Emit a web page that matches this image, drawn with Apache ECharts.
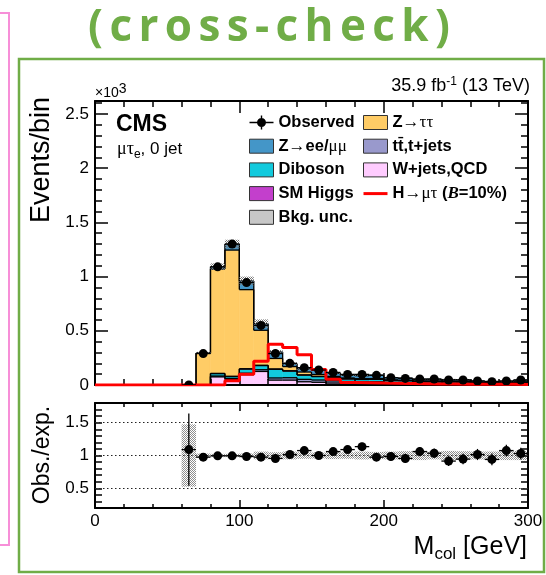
<!DOCTYPE html>
<html><head><meta charset="utf-8">
<script src="https://cdn.jsdelivr.net/npm/echarts@6/dist/echarts.min.js"></script>
<style>html,body{margin:0;padding:0;background:#fff}#c{width:546px;height:575px}</style>
</head><body><div id="c"></div>
<script>
// ---------- data (units of 10^3 events / bin) ----------
const binEdges = [0,10,20,30,40,50,60,70,80,90,100,110,120,130,140,150,160,170,180,190,200,210,220,230,240,250,260,270,280,290,300];
const wjetsQCD = [0,0,0,0,0,0,0.0005,0,0.075,0.05,0.095,0.125,0.045,0.045,0.03,0.025,0.018,0.012,0.010,0.012,0.008,0.008,0.006,0.006,0.006,0.005,0.004,0.004,0.003,0.004];
const ttbar    = [0,0,0,0,0,0,0,0.001,0.008,0.010,0.014,0.016,0.020,0.022,0.022,0.021,0.020,0.020,0.019,0.018,0.016,0.015,0.013,0.013,0.012,0.012,0.009,0.008,0.008,0.010];
const diboson  = [0,0,0,0,0,0,0,0.001,0.022,0.018,0.038,0.038,0.080,0.062,0.040,0.032,0.028,0.024,0.022,0.023,0.018,0.017,0.014,0.014,0.013,0.012,0.009,0.008,0.009,0.012];
const smHiggs  = [0,0,0,0,0,0,0,0,0.002,0.002,0.003,0.003,0.003,0.002,0.001,0.001,0.001,0.001,0.001,0.001,0.001,0.001,0.001,0.001,0.0005,0.0005,0.0005,0.0005,0.0005,0.0005];
const zTauTau  = [0,0,0,0,0,0,0.0015,0.290,0.963,1.165,0.730,0.323,0.097,0.039,0.027,0.018,0.012,0.008,0.006,0.005,0.004,0.003,0.003,0.002,0.002,0.002,0.001,0.001,0.001,0.001];
const zLL      = [0,0,0,0,0,0,0.0003,0.004,0.022,0.055,0.080,0.060,0.060,0.027,0.029,0.040,0.030,0.025,0.028,0.032,0.021,0.020,0.015,0.017,0.0165,0.0175,0.0125,0.0115,0.0125,0.0175];
const bkgUnc   = [0,0,0,0,0,0,0.001,0.010,0.030,0.040,0.040,0.040,0.018,0.012,0.008,0.007,0.006,0.005,0.005,0.005,0.004,0.004,0.004,0.003,0.003,0.003,0.002,0.002,0.002,0.003];
const observed    = [null,null,null,null,null,null,0.001,0.29,1.09,1.30,0.945,0.55,0.29,0.20,0.16,0.138,0.116,0.098,0.098,0.089,0.067,0.061,0.055,0.055,0.046,0.046,0.037,0.031,0.037,0.046];
const observedErr = [null,null,null,null,null,null,0.001,0.017,0.033,0.036,0.031,0.023,0.017,0.014,0.013,0.012,0.011,0.010,0.010,0.009,0.008,0.008,0.007,0.007,0.007,0.007,0.006,0.006,0.006,0.007];
const signalLFV   = [0,0,0,0,0,0,0,0,0,0.040,0.100,0.220,0.375,0.345,0.280,0.144,0.052,0.022,0.020,0.018,0.016,0.014,0.012,0.010,0.009,0.008,0.007,0.006,0.006,0.005];
const ratioObs     = [null,null,null,null,null,null,1.09,0.975,0.995,0.995,0.985,0.975,0.955,1.015,1.075,1.0,1.06,1.09,1.135,0.975,0.985,0.955,1.06,1.035,0.915,0.945,1.015,0.94,1.075,1.03];
const ratioErr     = [null,null,null,null,null,null,0.55,0.03,0.015,0.015,0.02,0.03,0.04,0.04,0.045,0.045,0.05,0.055,0.06,0.06,0.065,0.07,0.07,0.07,0.075,0.08,0.085,0.09,0.09,0.09];
const ratioBandUnc = [null,null,null,null,null,null,0.475,0.03,0.025,0.025,0.03,0.06,0.05,0.06,0.05,0.045,0.055,0.05,0.06,0.055,0.06,0.065,0.07,0.06,0.07,0.065,0.06,0.06,0.07,0.07];
const mainYTickLabels  = ['0','0.5','1','1.5','2','2.5'];
const ratioYTickLabels = ['0.5','1','1.5'];
const ratioRefLines    = [0.5, 1, 1.5];

// ---------- helpers ----------
const NB = binEdges.length - 1;
function makePattern(col){
  const c = document.createElement('canvas'); c.width = 2; c.height = 2;
  const g = c.getContext('2d'); g.fillStyle = col;
  g.fillRect(0,0,1,1); g.fillRect(1,1,1,1);
  return {image: c, repeat: 'repeat'};
}
const hatch = makePattern('#7a7a7a');
const hatchLight = makePattern('#8e8e8e');

const components = [
  {name:'W+jets,QCD', vals:wjetsQCD, color:'#ffccff'},
  {name:'tt\u0304,t+jets', vals:ttbar, color:'#9999cc'},
  {name:'Diboson', vals:diboson, color:'#12cadd'},
  {name:'SM Higgs', vals:smHiggs, color:'#c33fcc'},
  {name:'Z\u2192\u03c4\u03c4', vals:zTauTau, color:'#ffcc66'},
  {name:'Z\u2192ee/\u03bc\u03bc', vals:zLL, color:'#4496c8'}
];

function stackRender(color){
  return function(params, api){
    const lo = api.value(0), hi = api.value(1), base = api.value(2), top = api.value(3), prev = api.value(4);
    if (top <= 0 && prev <= 0) return null;
    const a = api.coord([lo, top]), b = api.coord([hi, base]), pp = api.coord([lo, prev]);
    const ch = [];
    if (top > base) ch.push({type:'rect', shape:{x:a[0], y:a[1], width:b[0]-a[0], height:b[1]-a[1]},
      style:{fill:color, stroke:color, lineWidth:0.6}, z2:0});
    ch.push({type:'line', shape:{x1:a[0], y1:a[1], x2:b[0], y2:a[1]}, style:{stroke:'#000', lineWidth:1.3}, z2:10});
    if (Math.abs(pp[1]-a[1]) > 0.1) ch.push({type:'line', shape:{x1:a[0], y1:pp[1], x2:a[0], y2:a[1]}, style:{stroke:'#000', lineWidth:1.3}, z2:10});
    return {type:'group', children:ch};
  };
}

let cum = new Array(NB).fill(0);
const stackSeries = components.map(c => {
  const tops = cum.map((b,i) => b + c.vals[i]);
  const data = tops.map((t,i) => [binEdges[i], binEdges[i+1], cum[i], t, i>0 ? tops[i-1] : 0]);
  cum = tops;
  return {type:'custom', name:c.name, xAxisIndex:0, yAxisIndex:0, z:2, clip:true,
    itemStyle:{color:c.color, borderColor:'#333', borderWidth:1},
    renderItem: stackRender(c.color), data: data};
});
const totals = cum;

function bandRender(fill){
  return function(params, api){
    const lo = api.value(0), hi = api.value(1), y0 = api.value(2), y1 = api.value(3);
    const a = api.coord([lo, y1]), b = api.coord([hi, y0]);
    return {type:'rect', shape:{x:a[0], y:a[1], width:b[0]-a[0], height:b[1]-a[1]}, style:{fill:fill}};
  };
}
function pointRender(r, lw){
  return function(params, api){
    const lo = api.value(0), hi = api.value(1), v = api.value(2), e = api.value(3);
    const mid = (lo+hi)/2;
    const l = api.coord([lo, v]), rr = api.coord([hi, v]), c = api.coord([mid, v]);
    const up = api.coord([mid, v+e]), dn = api.coord([mid, v-e]);
    return {type:'group', children:[
      {type:'line', shape:{x1:l[0], y1:l[1], x2:rr[0], y2:rr[1]}, style:{stroke:'#000', lineWidth:lw}},
      {type:'line', shape:{x1:up[0], y1:up[1], x2:dn[0], y2:dn[1]}, style:{stroke:'#000', lineWidth:lw}},
      {type:'circle', shape:{cx:c[0], cy:c[1], r:r}, style:{fill:'#000'}}
    ]};
  };
}

const mainBandData = [], obsData = [], ratioBandData = [], ratioData = [];
for (let i = 0; i < NB; i++){
  if (totals[i] > 0) mainBandData.push([binEdges[i], binEdges[i+1], totals[i]-bkgUnc[i], totals[i]+bkgUnc[i]]);
  if (observed[i] != null) obsData.push([binEdges[i], binEdges[i+1], observed[i], observedErr[i]]);
  if (ratioBandUnc[i] != null) ratioBandData.push([binEdges[i], binEdges[i+1], 1-ratioBandUnc[i], 1+ratioBandUnc[i]]);
  if (ratioObs[i] != null) ratioData.push([binEdges[i], binEdges[i+1], ratioObs[i], ratioErr[i]]);
}
const signalData = binEdges.map((e,i) => [e, signalLFV[Math.min(i, NB-1)]]);

// ---------- axes ----------
const F = '"Liberation Sans", Arial, Helvetica, sans-serif';
const AX = {color:'#000', width:2};
function xAx(grid, pos, showLabel, major, minor){
  return {type:'value', gridIndex:grid, position:pos, min:0, max:300, interval:100, z:3,
    axisLine:{show:true, onZero:false, lineStyle:AX},
    axisTick:{show:true, inside:true, length:major, lineStyle:{color:'#000', width:1.5}},
    minorTick:{show:true, splitNumber:5, length:minor, lineStyle:{color:'#000', width:1.5}},
    axisLabel:{show:showLabel, color:'#000', fontFamily:F, fontSize:17, margin:5},
    splitLine:{show:false}, minorSplitLine:{show:false}};
}
function yAx(grid, pos, min, max, interval, tickLen, labelFn, showLine){
  return {type:'value', gridIndex:grid, position:pos, min:min, max:max, interval:interval, z:3,
    axisLine:{show:showLine, onZero:false, lineStyle:AX},
    axisTick:{show:true, inside:true, length:tickLen, lineStyle:{color:'#000', width:1.5}},
    axisLabel:{show:!!labelFn, color:'#000', fontFamily:F, fontSize:17, margin:6, formatter:labelFn || undefined},
    splitLine:{show:false}};
}
function lab(list){
  return function(v){
    const r = Math.round(v*10)/10;
    const s = String(r);
    return list.indexOf(s) >= 0 ? s : '';
  };
}

const legendRich = {
  b:{fontFamily:F, fontWeight:'bold', fontSize:16.5, color:'#000'},
  g:{fontFamily:'"Liberation Serif", serif', fontWeight:'normal', fontSize:17, color:'#000'},
  i:{fontFamily:'"Liberation Serif", serif', fontWeight:'bold', fontStyle:'italic', fontSize:17, color:'#000'}
};
const legendFmt = {
  'Z\u2192ee/\u03bc\u03bc':'{b|Z}{g|\u2192}{b|ee/}{g|\u03bc\u03bc}',
  'Z\u2192\u03c4\u03c4':'{b|Z}{g|\u2192\u03c4\u03c4}',
  'H\u2192\u03bc\u03c4 (B=10%)':'{b|H}{g|\u2192\u03bc\u03c4}{b| (}{i|B}{b|=10%)}'
};
function legendCfg(left, items){
  return {left:left, top:114, orient:'vertical', padding:0, itemWidth:24, itemHeight:14, itemGap:6.7,
    selectedMode:false, textStyle:{fontFamily:F, fontWeight:'bold', fontSize:16.5, color:'#000', rich:legendRich},
    formatter: n => legendFmt[n] || ('{b|' + n + '}'), data: items};
}
const box = (name, color) => ({name:name, icon:'rect', itemStyle:{color:color, borderColor:'#333', borderWidth:1}});

const titleText = '(cross-check)';

const option = {
  animation:false,
  grid:[
    {left:95, top:101, width:433, height:284, outerBoundsMode:'none', containLabel:false},
    {left:95, top:403, width:433, height:105, outerBoundsMode:'none', containLabel:false}
  ],
  xAxis:[ xAx(0,'bottom',false,12,6), xAx(0,'top',false,12,6), xAx(1,'bottom',true,8,4), xAx(1,'top',false,8,4) ],
  yAxis:[
    yAx(0,'left',0,2.62,0.5,13,lab(mainYTickLabels),true),
    yAx(0,'left',0,2.62,0.1,7,null,false),
    yAx(0,'right',0,2.62,0.5,13,null,true),
    yAx(0,'right',0,2.62,0.1,7,null,false),
    yAx(1,'left',0.2,1.8,0.1,7,lab(ratioYTickLabels),true),
    yAx(1,'right',0.2,1.8,0.1,7,null,true)
  ],
  legend:[
    legendCfg(249, [
      {name:'Observed', icon:'path://M0,6.3H24V7.7H0Z M11.3,0H12.7V14H11.3Z M16.5,7A4.5,4.5,0,1,1,7.5,7A4.5,4.5,0,1,1,16.5,7Z', itemStyle:{color:'#000', borderWidth:0}},
      box('Z\u2192ee/\u03bc\u03bc', '#4496c8'), box('Diboson', '#12cadd'), box('SM Higgs', '#c33fcc'),
      {name:'Bkg. unc.', icon:'rect', itemStyle:{color:hatchLight, borderColor:'#333', borderWidth:1}}
    ]),
    legendCfg(363, [
      box('Z\u2192\u03c4\u03c4', '#ffcc66'), box('tt\u0304,t+jets', '#9999cc'), box('W+jets,QCD', '#ffccff'),
      {name:'H\u2192\u03bc\u03c4 (B=10%)', icon:'path://M0,0H24V3H0Z', itemStyle:{color:'#ff0000', borderWidth:0}}
    ])
  ],
  series: stackSeries.concat([
    {type:'custom', name:'Bkg. unc.', xAxisIndex:0, yAxisIndex:0, z:2.5, clip:true, itemStyle:{color:'#999'}, renderItem:bandRender(hatch), data:mainBandData},
    {type:'line', name:'H\u2192\u03bc\u03c4 (B=10%)', xAxisIndex:0, yAxisIndex:0, z:4, step:'end', symbol:'none',
      lineStyle:{color:'#ff0000', width:3}, itemStyle:{color:'#ff0000'}, data:signalData},
    {type:'custom', name:'Observed', xAxisIndex:0, yAxisIndex:0, z:6, clip:true, itemStyle:{color:'#000'}, renderItem:pointRender(4.5,1.3), data:obsData},
    {type:'line', name:'ratioRef', xAxisIndex:2, yAxisIndex:4, z:1, data:[], symbol:'none',
      markLine:{silent:true, symbol:'none', label:{show:false}, lineStyle:{color:'#222', type:[1.5,2.5], width:1},
        data: ratioRefLines.map(v => ({yAxis:v}))}},
    {type:'custom', name:'ratioBand', xAxisIndex:2, yAxisIndex:4, z:2, clip:true, renderItem:bandRender(hatchLight), data:ratioBandData},
    {type:'custom', name:'ratio', xAxisIndex:2, yAxisIndex:4, z:6, clip:true, renderItem:pointRender(4.5,1.3), data:ratioData}
  ]),
  graphic:[
    {type:'polyline', shape:{points:[[0,13],[9,13],[9,545],[0,545]]}, style:{stroke:'#f78fd8', lineWidth:2, fill:null}, silent:true},
    {type:'rect', shape:{x:19, y:59, width:525, height:513}, style:{stroke:'#70ad47', lineWidth:2.5, fill:null}, silent:true},
    {type:'text', x:269, y:28, silent:true, style:{
      text: titleText.split('').map(ch => '{c|' + ch + '}').join(''),
      align:'center', verticalAlign:'middle',
      rich:{c:{fontFamily:'"Open Sans", sans-serif', fontWeight:'bold', fontSize:44, fill:'#70ad47', padding:[0,3.2,0,3.2]}}}},
    {type:'text', x:42, y:160, rotation:Math.PI/2, silent:true, style:{text:'Events/bin', fontFamily:F, fontSize:27, fill:'#000', align:'center', verticalAlign:'middle'}},
    {type:'text', x:43, y:455, rotation:Math.PI/2, silent:true, style:{text:'Obs./exp.', fontFamily:F, fontSize:23, fill:'#000', align:'center', verticalAlign:'middle'}},
    {type:'text', x:95, y:93, silent:true, style:{text:'{a|\u00d710}{p|3}', verticalAlign:'middle',
      rich:{a:{fontFamily:F, fontSize:14, fill:'#000'}, p:{fontFamily:F, fontSize:14, fill:'#000', padding:[0,0,8,0]}}}},
    {type:'text', x:116, y:125, silent:true, style:{text:'CMS', fontFamily:F, fontWeight:'bold', fontSize:23, fill:'#000', verticalAlign:'middle'}},
    {type:'text', x:117, y:149, silent:true, style:{text:'{g|\u03bc\u03c4}{s|e}{n|, 0 jet}', verticalAlign:'middle',
      rich:{g:{fontFamily:'"Liberation Serif", serif', fontSize:18, fill:'#000'}, n:{fontFamily:F, fontSize:17, fill:'#000'},
            s:{fontFamily:F, fontSize:12, fill:'#000', padding:[12,0,0,0]}}}},
    {type:'text', x:530, y:86, silent:true, style:{text:'{n|35.9 fb}{p|-1}{n| (13 TeV)}', align:'right', verticalAlign:'middle',
      rich:{n:{fontFamily:F, fontSize:18, fill:'#000'}, p:{fontFamily:F, fontSize:12, fill:'#000', padding:[0,0,9,0]}}}},
    {type:'text', x:527, y:547, silent:true, style:{text:'{n|M}{s|col}{n| [GeV]}', align:'right', verticalAlign:'middle',
      rich:{n:{fontFamily:F, fontSize:25, fill:'#000'}, s:{fontFamily:F, fontSize:17, fill:'#000', padding:[14,0,0,0]}}}}
  ]
};
const chart = echarts.init(document.getElementById('c'), null, {renderer:'canvas'});
chart.setOption(option);
</script>
</body></html>
